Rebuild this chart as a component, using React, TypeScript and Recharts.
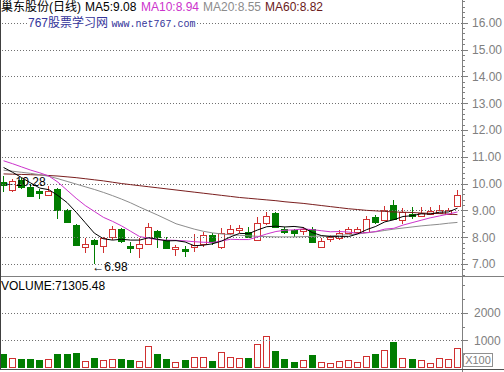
import React from 'react';
import { ComposedChart, Bar, Line, XAxis, YAxis, ReferenceLine } from 'recharts';

// ---- data ----
const opens = [10.05, 9.77, 10.15, 9.89, 9.74, 9.59, 9.8, 9.0, 8.44, 7.65, 7.89, 7.67, 7.99, 8.32, 7.67, 7.58, 7.73, 8.22, 7.89, 7.58, 7.54, 7.64, 7.74, 8.07, 7.64, 8.14, 8.3, 8.2, 7.89, 8.51, 8.9, 8.32, 8.26, 8.25, 8.32, 7.64, 7.94, 7.95, 8.14, 8.2, 8.2, 8.75, 8.63, 9.19, 8.63, 8.88, 8.78, 8.88, 8.9, 8.88, 9.15];
const highs = [10.28, 10.18, 10.2, 9.99, 9.8, 9.9, 9.84, 9.05, 8.5, 7.97, 7.92, 8.0, 8.42, 8.35, 7.83, 7.95, 8.53, 8.27, 8.0, 7.7, 7.66, 8.1, 8.18, 8.15, 8.33, 8.45, 8.47, 8.38, 8.75, 8.93, 8.92, 8.38, 8.32, 8.36, 8.38, 7.95, 8.09, 8.25, 8.36, 8.38, 8.8, 8.81, 9.18, 9.38, 9.07, 9.11, 9.14, 9.14, 9.2, 9.1, 9.75];
const lows = [9.68, 9.68, 9.8, 9.49, 9.43, 9.55, 8.69, 8.51, 7.68, 7.4, 6.98, 7.42, 7.88, 7.8, 7.42, 7.21, 7.69, 7.59, 7.56, 7.28, 7.25, 7.44, 7.64, 7.72, 7.57, 8.07, 8.16, 7.96, 7.85, 8.45, 8.35, 8.1, 8.0, 8.07, 7.78, 7.62, 7.83, 7.9, 8.12, 8.1, 8.15, 8.48, 8.6, 8.63, 8.48, 8.69, 8.75, 8.82, 8.85, 8.82, 9.12];
const closes = [9.93, 10.08, 9.86, 9.53, 9.65, 9.71, 9.0, 8.57, 7.7, 7.73, 7.74, 7.95, 8.32, 7.86, 7.6, 7.73, 8.38, 8.01, 7.58, 7.64, 7.49, 7.7, 8.07, 7.83, 8.14, 8.32, 8.35, 8.01, 8.51, 8.78, 8.38, 8.2, 8.14, 8.29, 7.83, 7.86, 7.99, 8.14, 8.29, 8.32, 8.66, 8.57, 9.02, 8.66, 8.94, 8.82, 8.9, 8.98, 9.0, 9.02, 9.59];
const volumes = [518, 361, 337, 337, 301, 337, 518, 518, 554, 265, 361, 301, 337, 337, 301, 265, 783, 506, 337, 217, 301, 386, 386, 265, 578, 386, 361, 361, 880, 1169, 614, 337, 205, 277, 458, 205, 181, 253, 277, 205, 422, 494, 639, 928, 373, 313, 277, 193, 349, 325, 713.05];
const ma5 = [10.6, 10.42, 10.22, 10.02, 9.83, 9.77, 9.55, 9.29, 8.93, 8.54, 8.15, 7.94, 7.89, 7.92, 7.89, 7.89, 7.98, 7.92, 7.86, 7.87, 7.82, 7.68, 7.7, 7.75, 7.85, 8.01, 8.14, 8.13, 8.27, 8.39, 8.41, 8.38, 8.4, 8.36, 8.17, 8.06, 8.02, 8.02, 8.02, 8.12, 8.28, 8.4, 8.57, 8.65, 8.77, 8.8, 8.87, 8.86, 8.93, 8.94, 9.08];
const ma10 = [10.85, 10.74, 10.62, 10.5, 10.4, 10.28, 10.05, 9.75, 9.45, 9.18, 8.96, 8.74, 8.59, 8.42, 8.22, 8.02, 7.96, 7.9, 7.89, 7.88, 7.86, 7.83, 7.81, 7.8, 7.86, 7.92, 7.91, 7.91, 8.01, 8.12, 8.21, 8.26, 8.27, 8.31, 8.28, 8.24, 8.2, 8.21, 8.19, 8.14, 8.17, 8.21, 8.3, 8.33, 8.45, 8.54, 8.63, 8.72, 8.79, 8.86, 8.94];
const ma20 = [10.5, 10.46, 10.42, 10.38, 10.33, 10.27, 10.18, 10.08, 9.98, 9.88, 9.78, 9.67, 9.55, 9.42, 9.28, 9.12, 8.97, 8.82, 8.66, 8.5, 8.4, 8.3, 8.22, 8.16, 8.12, 8.09, 8.07, 8.05, 8.03, 8.02, 8.01, 8.01, 8.01, 8.02, 8.03, 8.04, 8.05, 8.07, 8.09, 8.12, 8.16, 8.2, 8.25, 8.3, 8.34, 8.38, 8.42, 8.45, 8.48, 8.52, 8.55];
const ma60 = [10.36, 10.35, 10.34, 10.33, 10.32, 10.3, 10.28, 10.25, 10.22, 10.18, 10.14, 10.1, 10.05, 10.0, 9.96, 9.92, 9.88, 9.84, 9.8, 9.76, 9.72, 9.68, 9.64, 9.6, 9.56, 9.52, 9.48, 9.45, 9.42, 9.39, 9.36, 9.32, 9.29, 9.26, 9.22, 9.18, 9.14, 9.1, 9.06, 9.03, 9.0, 8.98, 8.96, 8.94, 8.93, 8.92, 8.9, 8.89, 8.88, 8.86, 8.84];

const priceTicks = [7, 8, 9, 10, 11, 12, 13, 14, 15, 16];
const priceMinorTicks = [6.6, 6.8, ...priceTicks.flatMap((t) => [t + 0.2, t + 0.4, t + 0.6, t + 0.8])];
const volumeTicks = [1000, 2000];
const volumeMinorTicks = [500, 1500, 2500, 3000];

const stockName = '巢东股份(日线)';
const legendItems = [
  { label: 'MA5:9.08', color: '#000000', left: 85 },
  { label: 'MA10:8.94', color: '#cc33cc', left: 141 },
  { label: 'MA20:8.55', color: '#8c8c8c', left: 203 },
  { label: 'MA60:8.82', color: '#6a1a1a', left: 265 },
];

// ---- styles ----
const RED = '#d03030';
const GREEN = '#007d00';
const AXIS = '#808080';
const FONT = '"Liberation Sans", Arial, "Noto Sans CJK SC", sans-serif';
const AXIS_W = 42;

const data = closes.map((close, i) => ({
  idx: i,
  open: opens[i],
  high: highs[i],
  low: lows[i],
  close,
  range: [lows[i], highs[i]],
  vol: volumes[i],
  ma5: ma5[i],
  ma10: ma10[i],
  ma20: ma20[i],
  ma60: ma60[i],
}));

const maxHigh = Math.max(...highs);
const minLow = Math.min(...lows);

function Candle(props: any) {
  const { x, y, width, height, payload } = props;
  if (!payload || x == null || y == null) return <g />;
  const { open, close, high, low } = payload;
  const span = high - low || 1;
  const py = (v: number) => y + ((high - v) / span) * height;
  const cx = Math.floor(x + width / 2) + 0.5;
  const up = close >= open;
  const color = up ? RED : GREEN;
  const yHi = Math.round(py(high));
  const yLo = Math.round(py(low));
  const yTop = Math.round(py(Math.max(open, close)));
  let yBot = Math.round(py(Math.min(open, close)));
  if (yBot - yTop < 2) yBot = yTop + 2;
  if (up) {
    return (
      <g>
        <line x1={cx} x2={cx} y1={yHi} y2={yTop} stroke={color} />
        <line x1={cx} x2={cx} y1={yBot} y2={Math.max(yLo, yBot)} stroke={color} />
        <rect x={cx - 3} y={yTop + 0.5} width={6} height={yBot - yTop} fill="#ffffff" stroke={color} />
      </g>
    );
  }
  return (
    <g>
      <line x1={cx} x2={cx} y1={yHi} y2={Math.max(yLo, yBot)} stroke={color} />
      <rect x={cx - 3.5} y={yTop} width={7} height={yBot - yTop + 1} fill={color} />
    </g>
  );
}

function VolBar(props: any) {
  const { x, y, width, height, payload } = props;
  if (!payload || x == null || y == null) return <g />;
  const cx = Math.floor(x + width / 2) + 0.5;
  const up = payload.close >= payload.open;
  const top = Math.round(y);
  const bottom = Math.round(y + height);
  if (up) {
    return <rect x={cx - 3} y={top + 0.5} width={6} height={bottom - top - 1} fill="#ffffff" stroke={RED} />;
  }
  return <rect x={cx - 3.5} y={top} width={7} height={bottom - top} fill={GREEN} />;
}

function HighMark(props: any) {
  const { cx, cy, payload, index } = props;
  if (!payload || payload.high !== maxHigh || cx == null) return <g key={`h${index}`} />;
  return (
    <text key={`h${index}`} x={cx} y={cy + 10} fontSize={12} fontFamily={FONT} fill="#000">
      {`←${maxHigh.toFixed(2)}`}
    </text>
  );
}

function LowMark(props: any) {
  const { cx, cy, payload, index } = props;
  if (!payload || payload.low !== minLow || cx == null) return <g key={`l${index}`} />;
  return (
    <text key={`l${index}`} x={cx - 2} y={cy + 7} fontSize={12} fontFamily={FONT} fill="#000">
      {`←${minLow.toFixed(2)}`}
    </text>
  );
}

function PriceTick(props: any) {
  const { x, y, payload } = props;
  const v = payload.value;
  const major = priceTicks.includes(v);
  const yy = Math.round(y) + 0.5;
  return (
    <g>
      <line x1={x} x2={x + (major ? 6 : 3)} y1={yy} y2={yy} stroke={AXIS} />
      {major && (
        <text x={x + 10} y={y} dy={4.5} fill={AXIS} fontSize={12} fontFamily={FONT}>
          {v.toFixed(2)}
        </text>
      )}
    </g>
  );
}

function VolTick(props: any) {
  const { x, y, payload } = props;
  const v = payload.value;
  const major = volumeTicks.includes(v);
  const yy = Math.round(y) + 0.5;
  return (
    <g>
      <line x1={x} x2={x + (major ? 6 : 3)} y1={yy} y2={yy} stroke={AXIS} />
      {major && (
        <text x={x + 12} y={y} dy={4.5} fill={AXIS} fontSize={12} fontFamily={FONT}>
          {String(v)}
        </text>
      )}
    </g>
  );
}

const gridShape = (p: any) => (
  <line
    x1={p.x1}
    x2={p.x2}
    y1={Math.round(p.y1) + 0.5}
    y2={Math.round(p.y2) + 0.5}
    stroke="#707070"
    strokeDasharray="1 2"
  />
);

const allPriceTicks = [...priceTicks, ...priceMinorTicks].sort((a, b) => a - b);
const allVolTicks = [...volumeTicks, ...volumeMinorTicks].sort((a, b) => a - b);

export default function App() {
  return (
    <div
      style={{
        position: 'absolute',
        left: 0,
        top: 0,
        width: 504,
        height: 372,
        background: '#ffffff',
        overflow: 'hidden',
        fontFamily: FONT,
      }}
    >
      <div style={{ position: 'absolute', left: 0, top: 0 }}>
        <ComposedChart width={504} height={277} data={data} margin={{ top: 0, right: 0, bottom: 1, left: -1 }}>
          <XAxis dataKey="idx" type="category" hide />
          <YAxis
            orientation="right"
            width={AXIS_W}
            type="number"
            domain={[6.55, 16.85]}
            allowDataOverflow
            ticks={allPriceTicks}
            interval={0}
            tickSize={0}
            tickMargin={0}
            tickLine={false}
            axisLine={false}
            tick={<PriceTick />}
          />
          {priceTicks.map((t) => (
            <ReferenceLine key={t} y={t} stroke="#707070" strokeDasharray="1 2" shape={gridShape} />
          ))}
          <Bar dataKey="range" barSize={7} shape={<Candle />} isAnimationActive={false} />
          <Line dataKey="ma60" stroke="#7a1e1e" strokeWidth={1} dot={false} activeDot={false} isAnimationActive={false} />
          <Line dataKey="ma20" stroke="#8c8c8c" strokeWidth={1} dot={false} activeDot={false} isAnimationActive={false} />
          <Line dataKey="ma10" stroke="#cc33cc" strokeWidth={1} dot={false} activeDot={false} isAnimationActive={false} />
          <Line dataKey="ma5" stroke="#000000" strokeWidth={1} dot={false} activeDot={false} isAnimationActive={false} />
          <Line dataKey="high" stroke="none" dot={<HighMark />} activeDot={false} isAnimationActive={false} />
          <Line dataKey="low" stroke="none" dot={<LowMark />} activeDot={false} isAnimationActive={false} />
        </ComposedChart>
      </div>

      <div style={{ position: 'absolute', left: 0, top: 277 }}>
        <ComposedChart width={504} height={92} data={data} margin={{ top: 0, right: 0, bottom: 1, left: -1 }}>
          <XAxis dataKey="idx" type="category" hide />
          <YAxis
            orientation="right"
            width={AXIS_W}
            type="number"
            domain={[0, 3309]}
            allowDataOverflow
            ticks={allVolTicks}
            interval={0}
            tickSize={0}
            tickMargin={0}
            tickLine={false}
            axisLine={false}
            tick={<VolTick />}
          />
          {volumeTicks.map((t) => (
            <ReferenceLine key={t} y={t} stroke="#707070" strokeDasharray="1 2" shape={gridShape} />
          ))}
          <Bar dataKey="vol" barSize={7} shape={<VolBar />} isAnimationActive={false} />
        </ComposedChart>
      </div>

      {/* frame lines */}
      <div style={{ position: 'absolute', left: 462, top: 0, width: 1, height: 372, background: AXIS }} />
      <div style={{ position: 'absolute', left: 0, top: 276, width: 504, height: 1, background: AXIS }} />
      <div style={{ position: 'absolute', left: 0, top: 0, width: 1, height: 370, background: '#404040' }} />
      <div style={{ position: 'absolute', left: 0, top: 369, width: 504, height: 1, background: '#505050' }} />

      {/* header legend */}
      <div style={{ position: 'absolute', left: 1, top: 0, fontSize: 12, lineHeight: '14px', color: '#000', whiteSpace: 'nowrap' }}>
        {stockName}
      </div>
      {legendItems.map((it) => (
        <div
          key={it.label}
          style={{ position: 'absolute', left: it.left, top: 0, fontSize: 12, lineHeight: '14px', color: it.color, whiteSpace: 'nowrap' }}
        >
          {it.label}
        </div>
      ))}
      <div
        style={{
          position: 'absolute',
          left: 28,
          top: 16,
          fontSize: 12,
          lineHeight: '14px',
          color: '#33339a',
          background: '#ffffff',
          whiteSpace: 'nowrap',
        }}
      >
        767股票学习网{' '}
        <span style={{ fontFamily: '"Liberation Mono", "DejaVu Sans Mono", monospace', fontSize: 10 }}>www.net767.com</span>
      </div>

      {/* volume panel labels */}
      <div style={{ position: 'absolute', left: 1, top: 279, fontSize: 12, lineHeight: '14px', color: '#000', whiteSpace: 'nowrap' }}>
        VOLUME:71305.48
      </div>
      <div
        style={{
          position: 'absolute',
          left: 463,
          top: 353,
          width: 28,
          height: 12,
          border: '1px solid #909090',
          fontSize: 11,
          lineHeight: '12px',
          color: AXIS,
          textAlign: 'center',
        }}
      >
        X100
      </div>
    </div>
  );
}
